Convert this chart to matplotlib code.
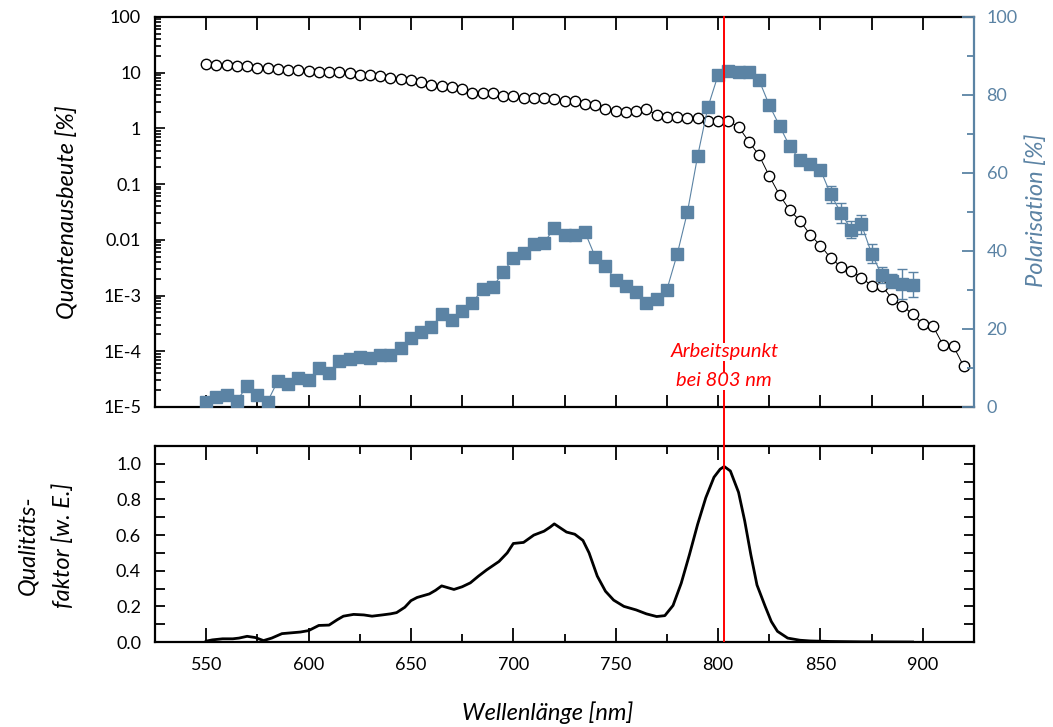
import numpy as np
import matplotlib.pyplot as plt
from matplotlib.ticker import MultipleLocator, LogLocator, FuncFormatter, NullFormatter

plt.rcParams['font.family'] = ['Lato', 'DejaVu Sans']

# quantum efficiency (circles), 5 nm steps
wl_qe = np.arange(550, 921, 5)
qe = [14.3, 13.9, 13.7, 13.4, 13.0, 12.3, 12.0, 11.6, 11.3, 11.0,
      10.6, 10.4, 10.2, 10.2, 9.9, 9.2, 8.9, 8.6, 8.0, 7.7,
      7.5, 6.7, 6.1, 5.7, 5.5, 5.0, 4.3, 4.3, 4.4, 3.8,
      3.8, 3.5, 3.5, 3.5, 3.3, 3.15,
      3.1, 2.76, 2.63, 2.22, 2.05, 2.0, 2.05, 2.2, 1.75, 1.63,
      1.63, 1.56, 1.53, 1.38, 1.34, 1.34, 1.07, 0.58, 0.33, 0.14,
      0.064, 0.034, 0.022, 0.0123, 0.0079, 0.0047, 0.0033, 0.0028, 0.0021, 0.0015,
      0.0015, 0.00087, 0.00066, 0.00046, 0.00031, 0.00028, 0.000127, 0.000122, 0.0000535]

# polarisation (squares)
wl_pol = np.arange(550, 896, 5)
pol = [1.4, 2.5, 3.1, 1.6, 5.4, 3.1, 1.4, 6.7, 5.9, 7.4,
       6.9, 9.9, 8.7, 11.8, 12.3, 12.7, 12.5, 13.2, 13.4, 15.1,
       17.7, 19.2, 20.4, 23.9, 22.4, 24.7, 26.7, 30.3, 30.8, 34.5,
       38.2, 39.5, 41.9, 42.1, 45.9, 44.1, 44.2, 44.8, 38.5, 36.1,
       32.5, 31.1, 29.6, 26.7, 27.7, 30.1, 39.1, 49.9, 64.3, 76.8,
       85.1, 86.2, 86.0, 86.0, 83.8, 77.4, 72.1, 66.8, 63.3, 62.2,
       60.8, 54.5, 49.8, 45.5, 46.8, 39.3, 33.8, 32.2, 31.6, 31.4]
pol_err = [0] * 60 + [0.8, 2.2, 2.6, 2.3, 2.4, 2.4, 2.0, 1.8, 3.8, 3.1]

# quality factor (bottom panel)
wl_q = [550, 553, 558, 563, 566, 570, 574, 578, 582, 587, 592, 596, 600, 605, 610,
        614, 617, 622, 627, 631, 636, 640, 643, 647, 650, 653, 659, 662, 665, 668,
        671, 675, 679, 683, 687, 693, 697, 700, 705, 710, 715, 718, 720, 723, 726,
        730, 734, 737, 741, 745, 749, 754, 760, 765, 770, 774, 778, 782, 786, 790,
        794, 798, 801, 803, 806, 810, 813, 816, 819, 823, 826, 829, 834, 840, 845,
        855, 870, 895]
qf = [0.005, 0.012, 0.018, 0.018, 0.022, 0.032, 0.025, 0.008, 0.022, 0.047, 0.052, 0.056, 0.064, 0.093, 0.095,
      0.125, 0.145, 0.155, 0.152, 0.145, 0.152, 0.158, 0.165, 0.195, 0.232, 0.25, 0.27, 0.29, 0.315, 0.305,
      0.295, 0.31, 0.332, 0.37, 0.405, 0.452, 0.5, 0.553, 0.559, 0.6, 0.622, 0.645, 0.663, 0.64, 0.617,
      0.605, 0.57, 0.5, 0.37, 0.285, 0.235, 0.2, 0.18, 0.158, 0.143, 0.148, 0.205, 0.33, 0.49, 0.66,
      0.81, 0.925, 0.97, 0.985, 0.96, 0.84, 0.68, 0.49, 0.32, 0.2, 0.115, 0.06, 0.022, 0.01, 0.006,
      0.003, 0.001, 0.0]

qe_labels = {100: '100', 10: '10', 1: '1', 0.1: '0.1', 0.01: '0.01',
             1e-3: '1E-3', 1e-4: '1E-4', 1e-5: '1E-5'}
work_point = 803

blue = '#5b83a4'
fs_tick = 13
fs_lab = 17

fig = plt.figure(figsize=(10.53, 7.27), dpi=100)
ax = fig.add_axes([0.1472, 0.4402, 0.7778, 0.5365])
axq = fig.add_axes([0.1472, 0.1169, 0.7778, 0.2696])

# top panel
ax.plot(wl_qe, qe, '-o', color='black', lw=0.7, ms=7.5, mfc='white', mec='black', mew=1.0)
ax.set_yscale('log')
ax.set_ylim(1e-5, 100)
ax.set_xlim(525, 925)
ax.xaxis.set_major_locator(MultipleLocator(50))
ax.xaxis.set_minor_locator(MultipleLocator(25))
ax.yaxis.set_major_locator(LogLocator(base=10, numticks=20))
ax.yaxis.set_minor_locator(LogLocator(base=10, subs=np.arange(2, 10), numticks=20))
ax.yaxis.set_major_formatter(FuncFormatter(lambda v, p: qe_labels.get(round(v, 6), '')))
ax.yaxis.set_minor_formatter(NullFormatter())
ax.tick_params(axis='x', which='both', direction='in', top=True, bottom=True,
               labelbottom=False, width=1.3)
ax.tick_params(axis='x', which='major', length=9)
ax.tick_params(axis='x', which='minor', length=9)
ax.tick_params(axis='y', which='both', direction='in', right=False, width=1.2,
               labelsize=fs_tick, pad=10)
ax.tick_params(axis='y', which='major', length=7)
ax.tick_params(axis='y', which='minor', length=4)
for s in ax.spines.values():
    s.set_linewidth(1.6)
ax.spines['right'].set_visible(False)

ax2 = ax.twinx()
ax2.errorbar(wl_pol, pol, yerr=pol_err, fmt='none', ecolor=blue, elinewidth=1.0,
             capsize=3.5, capthick=1.0, zorder=2)
ax2.plot(wl_pol, pol, '-s', color=blue, lw=0.8, ms=9, mfc=blue, mec=blue, zorder=3)
ax2.set_ylim(0, 100)
ax2.yaxis.set_major_locator(MultipleLocator(20))
ax2.yaxis.set_minor_locator(MultipleLocator(10))
ax2.tick_params(axis='y', which='both', direction='in', color=blue, labelcolor=blue,
                width=1.3, labelsize=fs_tick, pad=9)
ax2.tick_params(axis='y', which='major', length=9)
ax2.tick_params(axis='y', which='minor', length=5)
for k in ['left', 'top', 'bottom']:
    ax2.spines[k].set_visible(False)
ax2.spines['right'].set_color(blue)
ax2.spines['right'].set_linewidth(1.6)

# working point
ax2.axvline(work_point, ymin=-0.1, ymax=1, color='red', lw=1.4, clip_on=False, zorder=5)
ax2.text(work_point, 14.1, 'Arbeitspunkt', color='red', style='italic', fontsize=14.5,
         ha='center', va='center', zorder=6,
         bbox=dict(facecolor='white', edgecolor='none', pad=0.5))
ax2.text(work_point, 6.7, 'bei 803 nm', color='red', style='italic', fontsize=14.5,
         ha='center', va='center', zorder=6,
         bbox=dict(facecolor='white', edgecolor='none', pad=0.5))

# bottom panel
axq.plot(wl_q, qf, color='black', lw=2.0)
axq.axvline(work_point, color='red', lw=1.4, zorder=5)
axq.set_xlim(525, 925)
axq.set_ylim(0, 1.1)
axq.xaxis.set_major_locator(MultipleLocator(50))
axq.xaxis.set_minor_locator(MultipleLocator(25))
axq.yaxis.set_major_locator(MultipleLocator(0.2))
axq.yaxis.set_minor_locator(MultipleLocator(0.1))
axq.yaxis.set_major_formatter(FuncFormatter(lambda v, p: f'{v:.1f}'))
axq.tick_params(axis='both', which='both', direction='in', top=True, right=True,
                width=1.3, labelsize=fs_tick)
axq.tick_params(axis='x', which='major', length=10, pad=11)
axq.tick_params(axis='x', which='minor', length=6)
axq.tick_params(axis='y', which='major', length=7, pad=10)
axq.tick_params(axis='y', which='minor', length=7)
for s in axq.spines.values():
    s.set_linewidth(1.6)

# labels
fig.text(0.0636, 0.708, 'Quantenausbeute [%]', rotation=90, ha='center', va='center',
         style='italic', fontsize=fs_lab)
fig.text(0.984, 0.711, 'Polarisation [%]', rotation=90, ha='center', va='center',
         style='italic', fontsize=fs_lab, color=blue)
fig.text(0.043, 0.250, 'Qualitäts-\nfaktor [w. E.]', rotation=90, ha='center', va='center',
         style='italic', fontsize=fs_lab, linespacing=1.8)
fig.text(0.52, 0.019, 'Wellenlänge [nm]', ha='center', va='center',
         style='italic', fontsize=fs_lab)

fig.savefig('out.png', dpi=100)
